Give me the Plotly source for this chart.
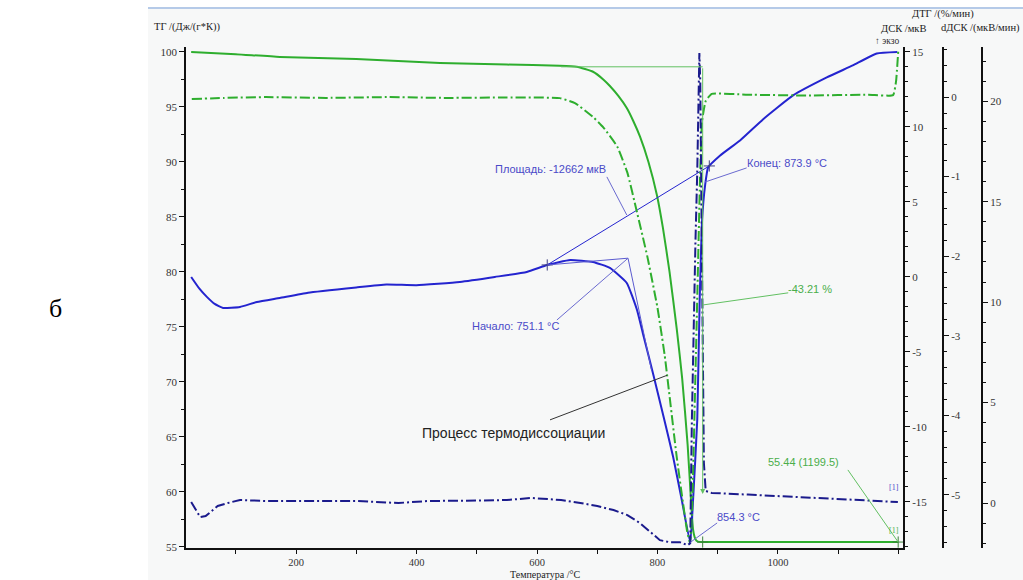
import plotly.graph_objects as go

# ---------------- measured curves ----------------
# TG, mass (%)
tg_temp = [26, 100, 173, 300, 439, 550, 638, 666, 693, 710, 721, 735, 749, 760, 771, 785, 799,
           809, 820, 832, 841, 850, 855, 859, 863, 867, 880, 950, 1050, 1150, 1199.5]
tg_val = [100.0, 99.8, 99.55, 99.35, 99.0, 98.85, 98.75, 98.65, 98.2, 97.5, 96.9, 96.0, 94.9, 93.7, 92.3,
          90.0, 87.0, 84.0, 80.0, 74.8, 70.3, 64.3, 59.8, 56.6, 55.7, 55.48, 55.44, 55.44, 55.44, 55.44,
          55.44]

# DTG (%/min)
dtg_temp = [27, 80, 150, 250, 350, 450, 550, 638, 663, 693, 710, 733, 750, 766, 783, 800, 812, 832, 849,
            854, 857, 862, 867, 871, 874, 880, 890, 950, 1050, 1150, 1191, 1196, 1199.5]
dtg_val = [-0.025, -0.01, 0.0, -0.01, 0.0, -0.01, -0.005, -0.013, -0.075, -0.25, -0.38, -0.62, -0.95,
           -1.45, -2.0, -2.65, -3.25, -4.53, -5.45, -5.61, -5.3, -3.8, -2.2, -0.9, -0.3, -0.05, 0.04,
           0.03, 0.02, 0.03, 0.025, 0.2, 0.57]

# DSC (uV)
dsc_temp = [26, 40, 52, 65, 79, 107, 135, 173, 220, 300, 350, 400, 472, 530, 583, 617, 655, 693, 721,
            749, 766, 776, 793, 810, 826, 840, 854.3, 859, 866, 870, 874, 879, 884, 904, 937, 975,
            1025, 1081, 1124, 1164, 1198]
dsc_val = [0.0, -0.8, -1.33, -1.8, -2.07, -2.0, -1.67, -1.4, -1.05, -0.7, -0.5, -0.55, -0.33, 0.0, 0.33,
           0.8, 1.13, 1.0, 0.6, -0.4, -2.2, -3.8, -6.5, -9.3, -12.0, -14.8, -17.7, -14.9, -9.5, -1.5,
           3.8, 6.1, 7.3, 8.1, 9.1, 10.5, 12.1, 13.3, 14.1, 14.9, 15.0]

# dDSC (uV/min)
ddsc_temp = [26, 35, 41, 50, 70, 87, 107, 150, 200, 250, 300, 370, 420, 500, 550, 590, 640, 672, 700,
             727, 750, 771, 790, 804, 820, 837, 850, 854.3, 857, 860, 863, 866, 868, 869.5, 871, 873,
             875, 877, 880, 890, 950, 1000, 1050, 1100, 1150, 1199]
ddsc_val = [0.05, -0.4, -0.7, -0.65, -0.15, 0.0, 0.15, 0.1, 0.1, 0.08, 0.1, 0.0, 0.1, 0.12, 0.15, 0.25,
            0.15, 0.0, -0.15, -0.35, -0.6, -1.0, -1.5, -1.85, -1.95, -1.95, -2.1, -2.0, 4, 9, 13, 16.5,
            20.5, 22.4, 21, 15, 6, 2, 0.6, 0.5, 0.42, 0.35, 0.28, 0.22, 0.15, 0.05]

# evaluation results
onset_T, onset_dsc = 751.1, 1.25
end_T = 873.9
peak_T, peak_dsc = 854.3, -17.7
area_uv = -12662
tg_step = 43.21
tg_final, tg_final_T = 55.44, 1199.5
tg_step_T = 875.0
baseline_T = [617, 886]
baseline_dsc = [0.8, 7.4]

# axis ticks
x_ticks = [200, 400, 600, 800, 1000]
tg_ticks = [55, 60, 65, 70, 75, 80, 85, 90, 95, 100]
dsc_ticks = [-15, -10, -5, 0, 5, 10, 15]
dtg_ticks = [-5, -4, -3, -2, -1, 0]
ddsc_ticks = [0, 5, 10, 15, 20]

# ---------------- layout helpers ----------------
W, H = 1023, 580
ML, MR, MT, MB = 186, 30, 47, 32
PW, PH = W - ML - MR, H - MT - MB


def px(x):
    return (x - ML) / PW


def py(y):
    return (H - MB - y) / PH


GREEN = "#2eae2e"
GREEN_THIN = "#62c062"
BLUE = "#2424cf"
NAVY = "#1b1b8c"
LBL_BLUE = "#4a4ac8"
LBL_GREEN = "#4aae4a"
DASHDOT = "10px,3px,2px,3px"
SERIF = "Liberation Serif"
SANS = "Liberation Sans"

fig = go.Figure()

fig.add_trace(go.Scatter(x=tg_temp, y=tg_val, yaxis="y", mode="lines",
                         line=dict(color=GREEN, width=2, shape="spline", smoothing=0.5)))
fig.add_trace(go.Scatter(x=dtg_temp, y=dtg_val, yaxis="y3", mode="lines",
                         line=dict(color=GREEN, width=2, dash=DASHDOT, shape="spline", smoothing=0.4)))
fig.add_trace(go.Scatter(x=dsc_temp, y=dsc_val, yaxis="y2", mode="lines",
                         line=dict(color=BLUE, width=2, shape="spline", smoothing=0.4)))
fig.add_trace(go.Scatter(x=ddsc_temp, y=ddsc_val, yaxis="y4", mode="lines",
                         line=dict(color=NAVY, width=2, dash=DASHDOT)))

# evaluation constructions on DSC
fig.add_trace(go.Scatter(x=baseline_T, y=baseline_dsc, yaxis="y2", mode="lines",
                         line=dict(color=BLUE, width=1)))
fig.add_trace(go.Scatter(x=baseline_T, y=baseline_dsc, yaxis="y2", mode="markers",
                         marker=dict(symbol="cross-thin", size=8, line=dict(color="#404080", width=1))))
fig.add_trace(go.Scatter(x=[tg_step_T, tg_final_T], y=[tg_final, tg_final], yaxis="y", mode="markers",
                         marker=dict(symbol="cross-thin", size=8, line=dict(color="#3a803a", width=1))))

shapes = []


def seg(x0, y0, x1, y1, yref, color, width=1):
    shapes.append(dict(type="line", xref="x", yref=yref, x0=x0, y0=y0, x1=x1, y1=y1,
                       line=dict(color=color, width=width)))


# panel background and top rule
shapes.append(dict(type="rect", xref="paper", yref="paper", x0=px(148), x1=px(1023), y0=py(580), y1=py(9),
                   fillcolor="#f7f8f8", line=dict(width=0), layer="below"))
shapes.append(dict(type="line", xref="paper", yref="paper", x0=px(148), x1=px(1023), y0=py(8), y1=py(8),
                   line=dict(color="#9db9e0", width=1.5), layer="below"))

# onset tangents and leaders
seg(baseline_T[0], baseline_dsc[0], onset_T, onset_dsc, "y2", "#5a5ad0")
seg(onset_T, onset_dsc, 790, -6.2, "y2", "#5a5ad0")
seg(633, -2.87, onset_T, onset_dsc, "y2", "#6a6ad0")
seg(716, 6.67, 749, 4.13, "y2", "#6a6ad0")
seg(948, 7.27, 879, 6.33, "y2", "#6a6ad0")
seg(899, -16.4, peak_T, peak_dsc, "y2", "#6a6ad0")
# TG step
seg(640, tg_final + tg_step, tg_step_T, tg_final + tg_step, "y", GREEN_THIN)
seg(1017, 78.1, tg_step_T + 1, 77.0, "y", GREEN_THIN)
seg(1116, 62.0, tg_final_T, tg_final, "y", GREEN_THIN)
seg(621.6, 66.55, 815.8, 70.6, "y", "#333333")

annotations = []


def lab(text, x, y, color, size=11, family=SANS, xanchor="center"):
    annotations.append(dict(text=text, xref="paper", yref="paper", x=px(x), y=py(y), showarrow=False,
                            xanchor=xanchor, yanchor="middle", font=dict(family=family, size=size, color=color)))


lab(f"Площадь: {area_uv} мкВ", 550, 169, LBL_BLUE)
lab(f"Конец: {end_T} °C", 787, 163, LBL_BLUE)
lab(f"Начало: {onset_T} °C", 515, 326, LBL_BLUE)
lab(f"{peak_T} °C", 738, 517, LBL_BLUE)
lab(f"-{tg_step} %", 810, 289, LBL_GREEN)
lab(f"{tg_final} ({tg_final_T})", 803, 462, LBL_GREEN)
lab("[1]", 894, 487, LBL_BLUE, size=8, family=SERIF)
lab("[1]", 894, 530, LBL_GREEN, size=8, family=SERIF)
lab("Процесс термодиссоциации", 513, 433, "#222222", size=14)

lab("ТГ /(Дж/(г*К))", 187, 27, "#222222", size=10.5, family=SERIF)
lab("ДТГ /(%/мин)", 943, 14, "#222222", size=10.5, family=SERIF)
lab("ДСК /мкВ", 903, 28, "#222222", size=10.5, family=SERIF)
lab("dДСК /(мкВ/мин)", 980, 28, "#222222", size=10.5, family=SERIF)
lab("↑ экзо", 887, 41, "#333333", size=9.5, family=SERIF)
lab("Температура /°C", 545, 574, "#222222", size=10, family=SERIF)
lab("б", 55, 308, "#000000", size=26, family=SERIF)

# step arrow
annotations.append(dict(x=tg_step_T, y=59.8, xref="x", yref="y", ax=tg_step_T, ay=tg_final + tg_step,
                        axref="x", ayref="y", showarrow=True, arrowhead=2, arrowsize=1, arrowwidth=1,
                        arrowcolor=GREEN_THIN, text=""))

tickfont = dict(family=SERIF, size=11, color="#333333")
axis_common = dict(showgrid=False, zeroline=False, showline=True, linecolor="#111111",
                   ticks="outside", tickcolor="#111111")

fig.update_layout(
    width=W, height=H,
    margin=dict(l=ML, r=MR, t=MT, b=MB),
    paper_bgcolor="white",
    plot_bgcolor="rgba(0,0,0,0)",
    showlegend=False,
    shapes=shapes,
    annotations=annotations,
    xaxis=dict(domain=[0, px(903)], range=[17.4, 1207.5], tickvals=x_ticks,
               ticktext=[str(v) for v in x_ticks], linewidth=1.5, ticklen=4,
               tickfont=dict(family=SERIF, size=10.5, color="#333333"),
               minor=dict(dtick=100, tick0=0, ticks="outside", ticklen=4, tickcolor="#111111"),
               **axis_common),
    yaxis=dict(range=[54.9, 100.45], side="left", tickvals=tg_ticks, ticktext=[str(v) for v in tg_ticks],
               linewidth=1.5, ticklen=5, tickfont=tickfont,
               minor=dict(dtick=2.5, tick0=0, ticks="outside", ticklen=3, tickcolor="#111111"),
               **axis_common),
    yaxis2=dict(range=[-18.07, 15.33], overlaying="y", side="right", anchor="x", tickvals=dsc_ticks,
                ticktext=[str(v) for v in dsc_ticks], linewidth=2, ticklen=5, tickfont=tickfont,
                minor=dict(dtick=1, tick0=0, ticks="outside", ticklen=3, tickcolor="#111111"),
                **axis_common),
    yaxis3=dict(range=[-5.67, 0.63], overlaying="y", side="right", anchor="free", position=px(943),
                tickvals=dtg_ticks, ticktext=[str(v) for v in dtg_ticks], linewidth=2, ticklen=5,
                tickfont=tickfont,
                minor=dict(dtick=0.2, tick0=0, ticks="outside", ticklen=3, tickcolor="#111111"),
                **axis_common),
    yaxis4=dict(range=[-2.24, 22.7], overlaying="y", side="right", anchor="free", position=px(982),
                tickvals=ddsc_ticks, ticktext=[str(v) for v in ddsc_ticks], linewidth=2, ticklen=5,
                tickfont=tickfont,
                minor=dict(dtick=1, tick0=0, ticks="outside", ticklen=3, tickcolor="#111111"),
                **axis_common),
)

fig.write_html("out.html")
